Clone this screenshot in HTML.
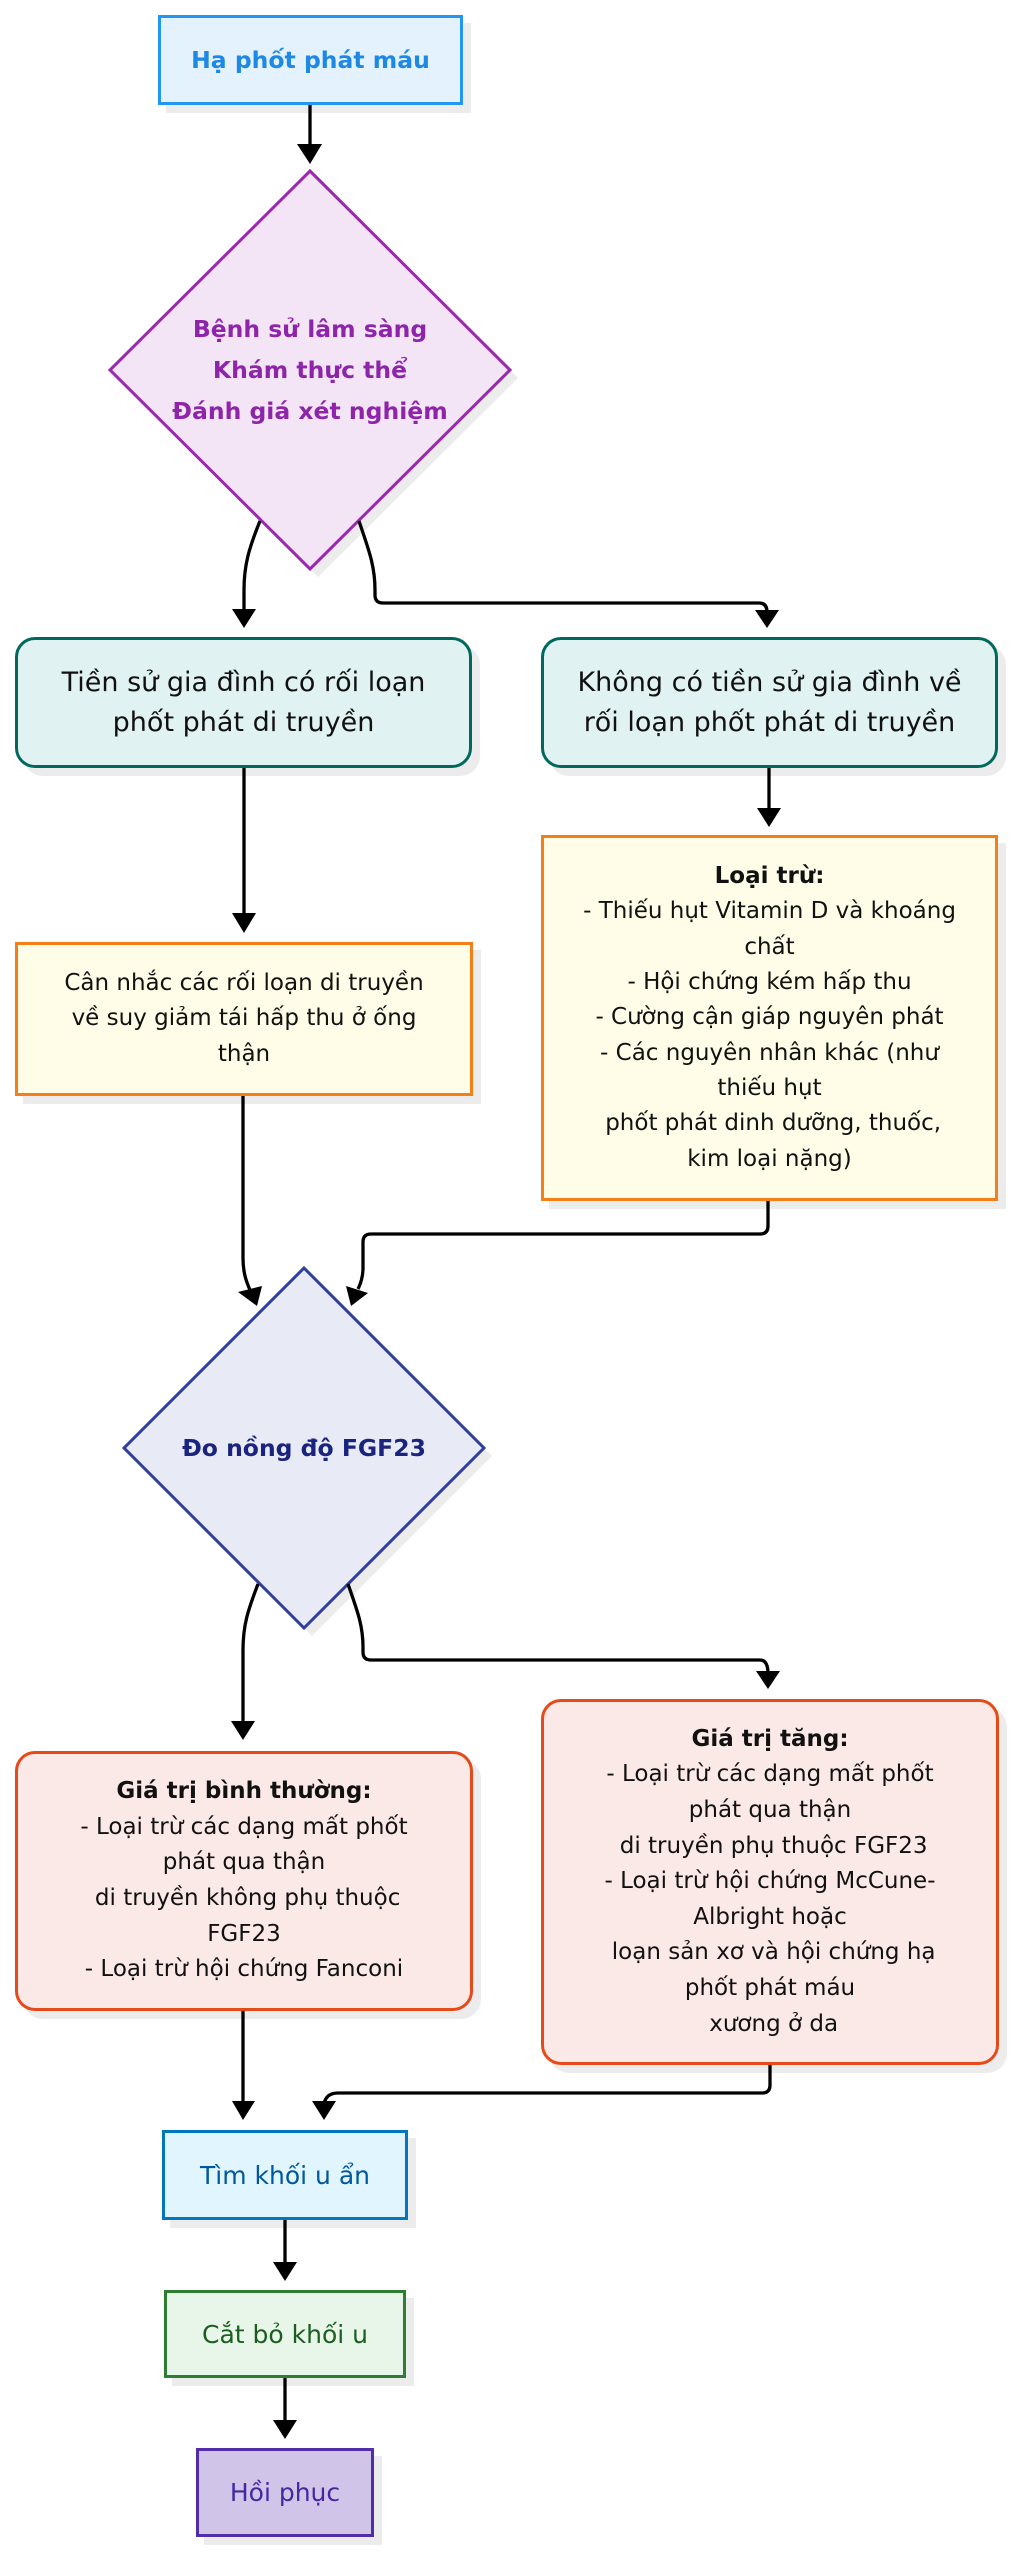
<!DOCTYPE html>
<html>
<head>
<meta charset="utf-8">
<style>
  html,body{margin:0;padding:0;background:#fff;}
  #c{position:relative;width:1015px;height:2560px;overflow:hidden;background:#fff;
     font-family:"DejaVu Sans","Liberation Sans","Noto Sans CJK SC",sans-serif;}
  .n{position:absolute;box-sizing:border-box;display:flex;align-items:center;justify-content:center;
     text-align:center;white-space:nowrap;box-shadow:8px 8px 0 #ececec;}
  .t{display:block;}
  svg{position:absolute;left:0;top:0;}
  .dt{position:absolute;text-align:center;white-space:nowrap;font-weight:bold;}
</style>
</head>
<body>
<div id="c">
  <!-- diamonds -->
  <svg width="1015" height="2560" viewBox="0 0 1015 2560">
    <polygon points="318,179 518,378 318,577 118,378" fill="#ececec"/>
    <polygon points="310,171 510,370 310,569 110,370" fill="#F3E5F5" stroke="#9C27B0" stroke-width="3"/>
    <polygon points="312,1276 492,1456 312,1636 132,1456" fill="#ececec"/>
    <polygon points="304,1268 484,1448 304,1628 124,1448" fill="#E8EAF6" stroke="#303F9F" stroke-width="3"/>
  </svg>
  <div class="dt" style="left:110px;width:400px;top:309px;font-size:23.5px;line-height:41px;color:#8E24AA;">Bệnh sử lâm sàng<br>Khám thực thể<br>Đánh giá xét nghiệm</div>
  <div class="dt" style="left:124px;width:360px;top:1431px;font-size:23.5px;line-height:34px;color:#1A237E;">Đo nồng độ FGF23</div>

  <!-- rect nodes -->
  <div class="n" style="left:158px;top:15px;width:305px;height:90px;background:#E3F2FD;border:3px solid #2196F3;color:#1E88E5;font-weight:bold;font-size:23.5px;">Hạ phốt phát máu</div>

  <div class="n" style="left:15px;top:637px;width:457px;height:131px;background:#E0F2F1;border:3px solid #00695C;border-radius:20px;color:#111;font-size:27px;line-height:40px;">Tiền sử gia đình có rối loạn<br>phốt phát di truyền</div>
  <div class="n" style="left:541px;top:637px;width:457px;height:131px;background:#E0F2F1;border:3px solid #00695C;border-radius:20px;color:#111;font-size:27px;line-height:40px;">Không có tiền sử gia đình về<br>rối loạn phốt phát di truyền</div>

  <div class="n" style="left:15px;top:942px;width:458px;height:154px;background:#FFFDE7;border:3px solid #F57F17;color:#111;font-size:23px;line-height:35.5px;">Cân nhắc các rối loạn di truyền<br>về suy giảm tái hấp thu ở ống<br>thận</div>
  <div class="n" style="left:541px;top:835px;width:457px;height:366px;background:#FFFDE7;border:3px solid #F57F17;color:#111;font-size:23px;line-height:35.3px;"><span><b>Loại trừ:</b><br>- Thiếu hụt Vitamin D và khoáng<br>chất<br>- Hội chứng kém hấp thu<br>- Cường cận giáp nguyên phát<br>- Các nguyên nhân khác (như<br>thiếu hụt<br>&nbsp;phốt phát dinh dưỡng, thuốc,<br>kim loại nặng)</span></div>

  <div class="n" style="left:15px;top:1751px;width:458px;height:260px;background:#FBE9E7;border:3px solid #E64A19;border-radius:20px;color:#111;font-size:23px;line-height:35.6px;"><span><b>Giá trị bình thường:</b><br>- Loại trừ các dạng mất phốt<br>phát qua thận<br>&nbsp;di truyền không phụ thuộc<br>FGF23<br>- Loại trừ hội chứng Fanconi</span></div>
  <div class="n" style="left:541px;top:1699px;width:458px;height:366px;background:#FBE9E7;border:3px solid #E64A19;border-radius:20px;color:#111;font-size:23px;line-height:35.6px;"><span><b>Giá trị tăng:</b><br>- Loại trừ các dạng mất phốt<br>phát qua thận<br>&nbsp;di truyền phụ thuộc FGF23<br>- Loại trừ hội chứng McCune-<br>Albright hoặc<br>&nbsp;loạn sản xơ và hội chứng hạ<br>phốt phát máu<br>&nbsp;xương ở da</span></div>

  <div class="n" style="left:162px;top:2130px;width:246px;height:90px;background:#E1F5FE;border:3px solid #0277BD;color:#01579B;font-size:25px;">Tìm khối u ẩn</div>
  <div class="n" style="left:164px;top:2290px;width:242px;height:88px;background:#E8F5E9;border:3px solid #2E7D32;color:#1B5E20;font-size:25px;">Cắt bỏ khối u</div>
  <div class="n" style="left:196px;top:2448px;width:178px;height:89px;background:#D1C4E9;border:3px solid #512DA8;color:#4527A0;font-size:25px;">Hồi phục</div>

  <!-- connectors -->
  <svg width="1015" height="2560" viewBox="0 0 1015 2560">
    <g fill="none" stroke="#000" stroke-width="3.3" stroke-linejoin="round">
      <path d="M310,105 L310,148"/>
      <path d="M260,521 C249,548 244,565 244,590 L244,612"/>
      <path d="M359,521 C368,548 375,565 375,590 L375,595 Q375,603 383,603 L759,603 Q767,603 767,612"/>
      <path d="M244,768 L244,916"/>
      <path d="M769,768 L769,810"/>
      <path d="M243,1096 L243,1258 C243,1272 246,1281 250,1290"/>
      <path d="M768,1201 L768,1226 Q768,1234 760,1234 L371,1234 Q363,1234 363,1242 L363,1268 C363,1277 361,1283 358,1289"/>
      <path d="M258,1584 C248,1610 243,1625 243,1650 L243,1724"/>
      <path d="M348,1584 C357,1610 363,1625 363,1647 L363,1652 Q363,1660 371,1660 L760,1660 Q768,1660 768,1674"/>
      <path d="M243,2011 L243,2104"/>
      <path d="M770,2065 L770,2085 Q770,2093 762,2093 L338,2093 Q326,2093 324,2104"/>
      <path d="M285,2220 L285,2264"/>
      <path d="M285,2378 L285,2422"/>
    </g>
    <g fill="#000">
      <polygon points="297,144 322,144 310,164"/>
      <polygon points="232,609 256,609 244,628"/>
      <polygon points="755,610 779,610 767,628"/>
      <polygon points="232,913 256,913 244,933"/>
      <polygon points="757,808 781,808 769,827"/>
      <polygon points="238,1292 262,1286 257,1306"/>
      <polygon points="346,1286 368,1293 351,1306"/>
      <polygon points="231,1721 255,1721 243,1740"/>
      <polygon points="756,1671 780,1671 768,1689"/>
      <polygon points="232,2101 255,2101 243,2120"/>
      <polygon points="312,2101 336,2101 324,2120"/>
      <polygon points="273,2262 297,2262 285,2281"/>
      <polygon points="273,2420 297,2420 285,2439"/>
    </g>
  </svg>
</div>
</body>
</html>
